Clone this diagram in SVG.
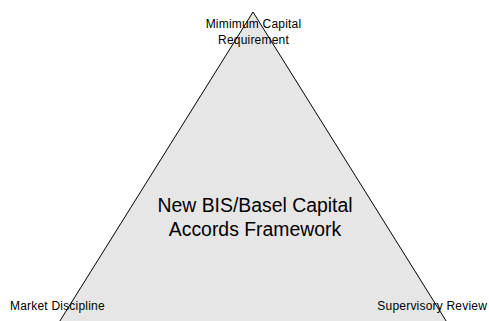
<svg xmlns="http://www.w3.org/2000/svg" width="489" height="321" viewBox="0 0 489 321">
  <style>
    .tri { fill: #e6e6e6; stroke: #000; stroke-width: 1; }
    .lbl { font-family: "Liberation Sans", Arial, sans-serif; font-size: 12px; letter-spacing: 0.2px; fill: #000; }
    .title { font-family: "Liberation Sans", Arial, sans-serif; font-size: 19.4px; fill: #000; text-anchor: middle; }
  </style>
  <rect width="489" height="321" fill="#fff"/>
  <g id="framework">
    <polygon class="tri" points="253,12 58,324 448,324"/>
    <text class="title" x="255" y="212">New BIS/Basel Capital</text>
    <text class="title" x="255" y="236">Accords Framework</text>
  </g>
  <g id="pillar-capital">
    <text class="lbl" x="253.5" y="28" text-anchor="middle">Mimimum Capital</text>
    <text class="lbl" x="253.5" y="44" text-anchor="middle">Requirement</text>
  </g>
  <g id="pillar-market">
    <text class="lbl" x="10" y="310">Market Discipline</text>
  </g>
  <g id="pillar-supervisory">
    <text class="lbl" x="487" y="310" text-anchor="end">Supervisory Review</text>
  </g>
  <g id="connectors"></g>
</svg>
